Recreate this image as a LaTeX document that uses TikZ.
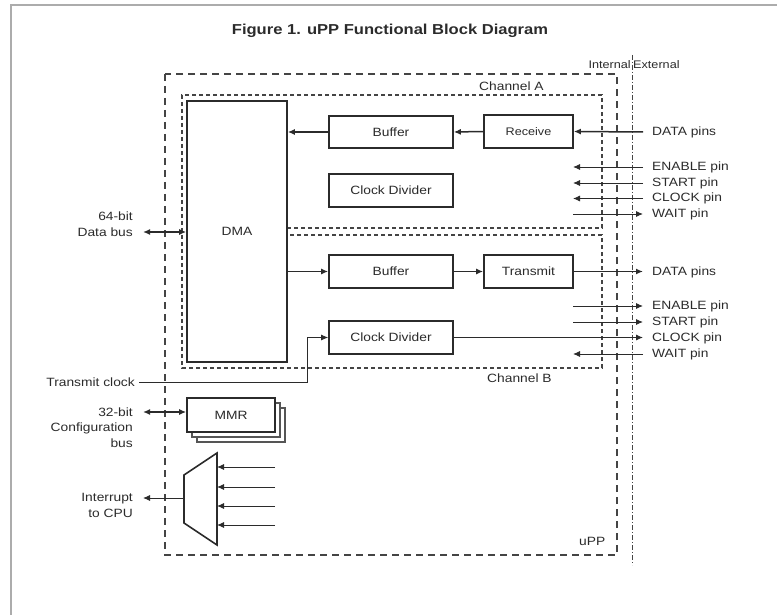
\documentclass[tikz,border=0pt]{standalone}
\usepackage{fontspec}
\setmainfont{Liberation Sans}[FakeStretch=1.15]
\usetikzlibrary{arrows.meta}
\definecolor{ink}{HTML}{2B2B2B}
\definecolor{dashc}{HTML}{444444}
\begin{document}
\begin{tikzpicture}[x=1pt,y=-1pt,
  every node/.style={font=\fontsize{12}{16}\selectfont, text=ink},
  blk/.style={draw=ink, line width=1.6pt, fill=white, inner sep=0pt},
  arr/.style={draw=ink, line width=1.5pt, -{Latex[length=7pt,width=6pt]}},
  tarr/.style={draw=ink, line width=0.9pt, -{Latex[length=7pt,width=6pt]}},
  dblarr/.style={draw=ink, line width=1.5pt, {Latex[length=7pt,width=6pt]}-{Latex[length=7pt,width=6pt]}},
  lbl/.style={inner sep=0pt, anchor=west},
  rlbl/.style={inner sep=0pt, anchor=east, align=right},
  uppbox/.style={draw=dashc, line width=1.1pt, dash pattern=on 7pt off 5pt},
  chanbox/.style={draw=dashc, line width=1.1pt, dash pattern=on 4pt off 3pt},
  ieline/.style={draw=dashc, line width=0.9pt, dash pattern=on 5pt off 2pt on 1pt off 2pt},
  small/.style={font=\fontsize{11}{13}\selectfont},
]
\useasboundingbox (0,0) rectangle (777,615);
% frame
\draw[gray!65, line width=2pt] (11,615) -- (11,5) -- (777,5);

% title
\node[font=\fontsize{14.4}{16}\selectfont\bfseries] (title) at (390,31) {Figure 1. uPP Functional Block Diagram};

% uPP outer box and internal/external line
\draw[uppbox] (165,74) rectangle (617,555);
\draw[ieline] (632,55) -- (632,565);
\node[small, inner sep=0pt, anchor=east] (intl) at (631,65) {Internal};
\node[small, inner sep=0pt, anchor=west] (extl) at (633,65) {External};
\node[lbl] (upp) at (579,541) {uPP};

% channel boxes
\draw[chanbox] (287,228) -- (602,228) -- (602,95) -- (182,95) -- (182,368) -- (602,368) -- (602,235) -- (287,235);
\node[lbl] (chA) at (479,86) {Channel A};
\node[lbl] (chB) at (487,378) {Channel B};

% blocks
\node[blk, minimum width=100pt, minimum height=261pt] (dma) at (237,231.5) {DMA};
\node[blk, minimum width=124pt, minimum height=32pt] (bufA) at (391,132) {Buffer};
\node[blk, minimum width=124pt, minimum height=33pt] (clkA) at (391,190.5) {Clock Divider};
\node[blk, small, minimum width=89pt, minimum height=33pt] (recv) at (528.5,131.5) {Receive};
\node[blk, minimum width=124pt, minimum height=33pt] (bufB) at (391,271.5) {Buffer};
\node[blk, minimum width=89pt, minimum height=33pt] (xmit) at (528.5,271.5) {Transmit};
\node[blk, minimum width=124pt, minimum height=33pt] (clkB) at (391,337.5) {Clock Divider};

% MMR stack
\node[draw=ink!80, line width=1.1pt, fill=white, minimum width=88pt, minimum height=34pt] (mmr3) at (241,425) {};
\node[draw=ink!80, line width=1.1pt, fill=white, minimum width=88pt, minimum height=34pt] (mmr2) at (236,420) {};
\node[blk, minimum width=88pt, minimum height=34pt] (mmr) at (231,415) {MMR};

% mux
\coordinate (m1) at (184,475);
\coordinate (m2) at (217,453);
\coordinate (m3) at (217,545);
\coordinate (m4) at (184,523);
\draw[draw=ink, line width=1.6pt, fill=white] (m1) -- (m2) -- (m3) -- (m4) -- cycle;

% pin labels channel A
\node[lbl] (dataA) at (652,132) {DATA pins};
\node[lbl] (enA) at (652,167) {ENABLE pin};
\node[lbl] (stA) at (652,183) {START pin};
\node[lbl] (ckA) at (652,198.5) {CLOCK pin};
\node[lbl] (wtA) at (652,214) {WAIT pin};
% pin labels channel B
\node[lbl] (dataB) at (652,272) {DATA pins};
\node[lbl] (enB) at (652,306) {ENABLE pin};
\node[lbl] (stB) at (652,322) {START pin};
\node[lbl] (ckB) at (652,338) {CLOCK pin};
\node[lbl] (wtB) at (652,354) {WAIT pin};

% left labels
\node[rlbl] (dbus) at (133,224) {64-bit\\Data bus};
\node[rlbl] (tclk) at (135,382) {Transmit clock};
\node[rlbl, font=\fontsize{12}{15.5}\selectfont] (cbus) at (133,427.5) {32-bit\\Configuration\\bus};
\node[rlbl] (irq) at (133,505) {Interrupt\\to CPU};

% channel A connectors
\coordinate (pinx) at (643,0);
\coordinate (inx) at (573,0);
\draw[arr] (dataA.west -| pinx) -- (recv.east);
\draw[arr] (recv.west) -- (bufA.east);
\draw[arr] (bufA.west) -- (bufA.west -| dma.east);
\draw[tarr] (enA.west -| pinx) -- (enA.west -| inx);
\draw[tarr] (stA.west -| pinx) -- (stA.west -| inx);
\draw[tarr] (ckA.west -| pinx) -- (ckA.west -| inx);
\draw[tarr] (wtA.west -| inx) -- (wtA.west -| pinx);

% channel B connectors
\draw[arr] (bufB.west -| dma.east) -- (bufB.west);
\draw[arr] (bufB.east) -- (xmit.west);
\draw[arr] (xmit.east) -- (xmit.east -| pinx);
\draw[tarr] (enB.west -| inx) -- (enB.west -| pinx);
\draw[tarr] (stB.west -| inx) -- (stB.west -| pinx);
\draw[tarr] (clkB.east) -- (clkB.east -| pinx);
\draw[tarr] (wtB.west -| pinx) -- (wtB.west -| inx);

% transmit clock
\coordinate (tcturn) at (307,337.5);
\draw[tarr] ([xshift=4pt]tclk.east) -| (tcturn) -- (clkB.west);

% buses
\coordinate (dbend) at (143,232);
\draw[dblarr] (dbend) -- (dbend -| dma.west);
\coordinate (cbend) at (143,412);
\draw[dblarr] (cbend) -- (cbend -| mmr.west);

% mux connectors
\coordinate (mout) at (184,498);
\coordinate (irqend) at (143,498);
\draw[tarr] (mout) -- (irqend);
\foreach \yy [count=\i] in {467,487,506,525}{
  \coordinate (src\i) at (275,\yy);
  \coordinate (dst\i) at (217,\yy);
  \draw[tarr] (src\i) -- (dst\i);
}
\end{tikzpicture}
\end{document}
